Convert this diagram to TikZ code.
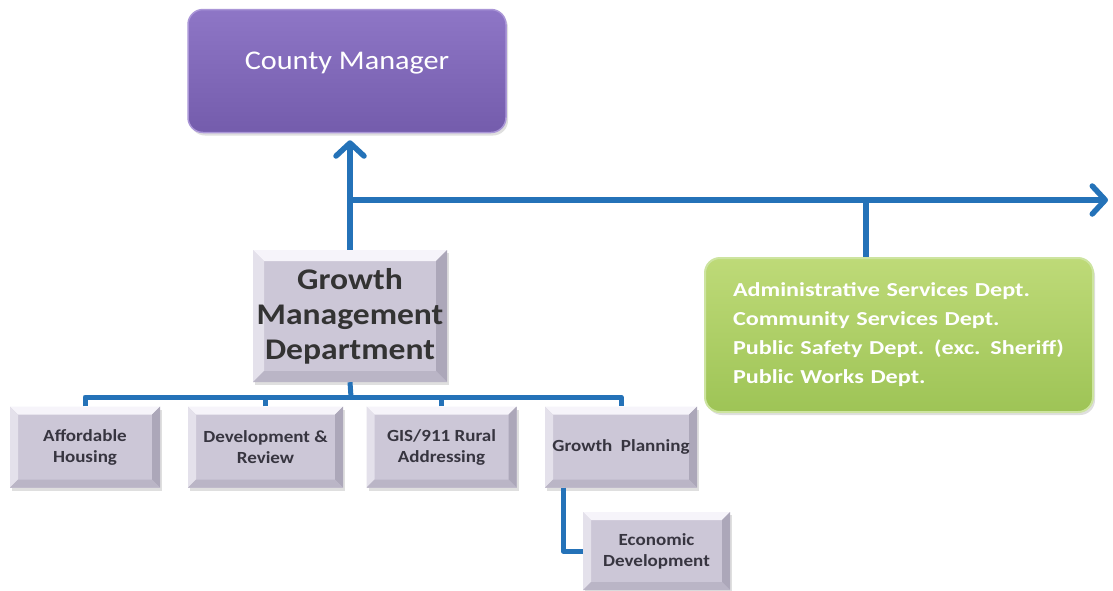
\documentclass[tikz,border=0pt]{standalone}
\usepackage{fontspec}
\setmainfont{Carlito}
\newfontfamily\wideA{Carlito}[FakeStretch=1.12]
\newfontfamily\wideB{Carlito}[FakeStretch=1.22]
\usetikzlibrary{arrows.meta,shadows}
\definecolor{lineblue}{RGB}{36,114,184}
\definecolor{cmtop}{RGB}{142,118,198}
\definecolor{cmbot}{RGB}{116,92,172}
\definecolor{cmedge}{RGB}{170,150,215}
\definecolor{grtop}{RGB}{190,218,120}
\definecolor{grbot}{RGB}{158,196,86}
\definecolor{gredge}{RGB}{205,228,160}
\definecolor{face}{RGB}{204,199,215}
\definecolor{bevlight}{RGB}{246,244,250}
\definecolor{bevleft}{RGB}{228,225,235}
\definecolor{bevright}{RGB}{172,167,185}
\definecolor{bevbot}{RGB}{186,181,198}
\definecolor{boxtext}{RGB}{55,53,64}
\tikzset{
  conn/.style={draw=lineblue, line width=6pt, line join=round},
  subconn/.style={draw=lineblue, line width=5pt, line join=round},
  chev/.style={-{Straight Barb[length=13pt,width=28pt,line width=5.5pt,round]}},
  bevelbox/.style={rectangle, fill=face, inner sep=0pt, align=center, text=boxtext,
    drop shadow={opacity=0.25, shadow xshift=2pt, shadow yshift=-3pt},
    path picture={
      \fill[bevlight] (path picture bounding box.north west) -- (path picture bounding box.north east)
        -- ([shift={(-#1,-#1)}]path picture bounding box.north east)
        -- ([shift={(#1,-#1)}]path picture bounding box.north west) -- cycle;
      \fill[bevleft] (path picture bounding box.north west) -- (path picture bounding box.south west)
        -- ([shift={(#1,#1)}]path picture bounding box.south west)
        -- ([shift={(#1,-#1)}]path picture bounding box.north west) -- cycle;
      \fill[bevright] (path picture bounding box.north east) -- (path picture bounding box.south east)
        -- ([shift={(-#1,#1)}]path picture bounding box.south east)
        -- ([shift={(-#1,-#1)}]path picture bounding box.north east) -- cycle;
      \fill[bevbot] (path picture bounding box.south west) -- (path picture bounding box.south east)
        -- ([shift={(-#1,#1)}]path picture bounding box.south east)
        -- ([shift={(#1,#1)}]path picture bounding box.south west) -- cycle;
    }},
  childbox/.style={bevelbox=8pt, minimum width=150pt, minimum height=81pt,
    font=\wideA\bfseries\fontsize{17}{21}\selectfont},
}
\begin{document}
\begin{tikzpicture}[x=1pt,y=-1pt]
\useasboundingbox[fill=white] (0,0) rectangle (1113,590);

% County Manager
\node[rectangle, rounded corners=15pt, minimum width=318pt, minimum height=123pt,
  top color=cmtop, bottom color=cmbot, draw=cmedge, line width=1.5pt,
  drop shadow={opacity=0.25, shadow xshift=2pt, shadow yshift=-3pt},
  text=white, font=\wideA\fontsize{27}{32}\selectfont, inner sep=0pt]
  (cm) at (347,71) {\raisebox{20pt}{County Manager}};

% Growth Management Department
\node[bevelbox=11pt, minimum width=194pt, minimum height=132pt,
  font=\wideA\bfseries\fontsize{30}{35}\selectfont, text=black!80]
  (gm) at (350,316) {Growth\\Management\\Department};

% Other departments
\node[rectangle, rounded corners=15pt, minimum width=388pt, minimum height=154pt,
  top color=grtop, bottom color=grbot, draw=gredge, line width=2pt,
  drop shadow={opacity=0.25, shadow xshift=2pt, shadow yshift=-3pt},
  text=white, align=left, text width=332pt,
  font=\wideB\bfseries\fontsize{19.8}{29}\selectfont, inner sep=0pt]
  (others) at (899,335) {Administrative Services Dept.\\Community Services Dept.\\Public Safety Dept. (exc. Sheriff)\\Public Works Dept.};

% Children
\node[childbox] (ah) at (85,447) {Affordable\\Housing};
\node[childbox, minimum width=155pt] (dr) at (265.5,447) {Development \&\\Review};
\node[childbox] (gis) at (441.5,447) {GIS/911 Rural\\Addressing};
\node[childbox, minimum width=152pt] (gp) at (621,447) {Growth\ \ Planning};
\node[childbox, minimum width=147pt, minimum height=78pt] (ed) at (656.5,551) {Economic\\Development};

% Connectors
\coordinate (jl) at (349,200);
\coordinate (rend) at (1108,200);
\coordinate (gtap) at (866,200);
\coordinate (bar) at (351,397);

\draw[conn, chev] (gm.north) -- ([yshift=-7pt]gm.north |- cm.south);
\draw[conn, chev] (jl) -- (rend);
\draw[conn] (gtap) -- (gtap |- others.north);

\draw[subconn] (gm.south) -- (bar);
\draw[subconn] (ah.north) |- (bar) -| (gp.north);
\draw[subconn] (dr.north) -- (dr.north |- bar);
\draw[subconn] (gis.north) -- (gis.north |- bar);
\draw[subconn] ([xshift=-58pt]gp.south) |- (ed.west);
\end{tikzpicture}
\end{document}
